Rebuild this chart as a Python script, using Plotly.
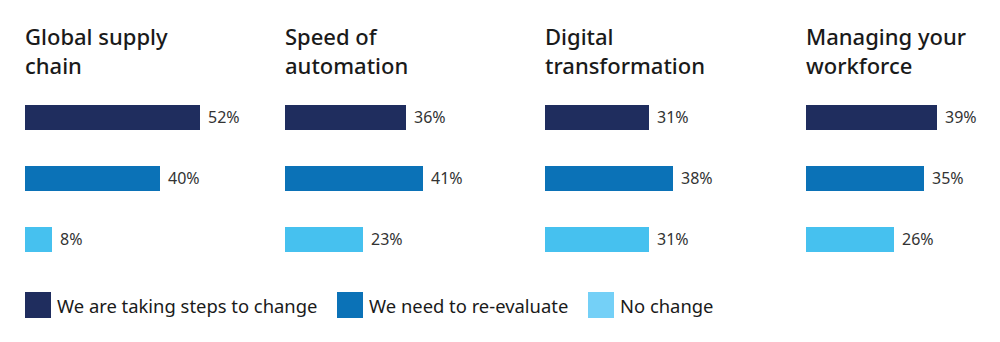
import plotly.graph_objects as go

panels = ["Global supply<br>chain", "Speed of<br>automation", "Digital<br>transformation", "Managing your<br>workforce"]
series = ["We are taking steps to change", "We need to re-evaluate", "No change"]
taking_steps = [52, 36, 31, 39]
re_evaluate = [40, 41, 38, 35]
no_change = [8, 23, 31, 26]

bar_colors = ["#1f2d5e", "#0b72b7", "#46c1ef"]
legend_colors = ["#1f2d5e", "#0b72b7", "#74d0f7"]

W, H = 1000, 342
panel_x0 = [25, 285, 545, 806]
panel_w = 190
px_per_pct = 3.37
y_top_px, y_bot_px = 86.5, 269.5

fig = go.Figure()
values = [taking_steps, re_evaluate, no_change]
for p in range(4):
    ax = "" if p == 0 else str(p + 1)
    for s in range(3):
        fig.add_trace(go.Bar(
            x=[values[s][p]], y=[series[s]], orientation="h",
            marker=dict(color=bar_colors[s], line=dict(width=0)),
            width=0.426, showlegend=False, hoverinfo="skip",
            xaxis="x" + ax, yaxis="y" + ax,
        ))
        fig.add_annotation(
            x=values[s][p], y=series[s], xref="x" + ax, yref="y" + ax,
            text=f"{values[s][p]}%", showarrow=False, xanchor="left", xshift=6,
            font=dict(family="Noto Sans", size=16, color="#333333"),
        )
    d0 = panel_x0[p] / W
    d1 = (panel_x0[p] + panel_w) / W
    fig.layout["xaxis" + ax] = dict(domain=[d0, d1], range=[0, panel_w / px_per_pct],
                                    visible=False, fixedrange=True, anchor="y" + ax)
    fig.layout["yaxis" + ax] = dict(domain=[1 - y_bot_px / H, 1 - y_top_px / H],
                                    categoryorder="array", categoryarray=series,
                                    range=[2.5, -0.5], visible=False, fixedrange=True,
                                    anchor="x" + ax)
    fig.add_annotation(
        x=(panel_x0[p] - 2) / W, y=1 - 19 / H, xref="paper", yref="paper",
        xanchor="left", yanchor="top",
        text=panels[p], showarrow=False, align="left",
        font=dict(family="Noto Sans", size=22, color="#1a1a1a", weight=500),
    )

# legend
leg_x = [25, 337, 588]
for s in range(3):
    fig.add_shape(type="rect", xref="paper", yref="paper",
                  x0=leg_x[s] / W, x1=(leg_x[s] + 26) / W,
                  y0=1 - 318 / H, y1=1 - 292 / H,
                  fillcolor=legend_colors[s], line=dict(width=0))
    fig.add_annotation(x=(leg_x[s] + 30) / W, y=1 - 305 / H, xref="paper", yref="paper",
                       xanchor="left", yanchor="middle", text=series[s], showarrow=False,
                       font=dict(family="Noto Sans", size=18.4, color="#1a1a1a"))

fig.update_layout(width=W, height=H, margin=dict(l=0, r=0, t=0, b=0),
                  paper_bgcolor="white", plot_bgcolor="white", bargap=0,
                  showlegend=False)
fig.write_html("out.html")
